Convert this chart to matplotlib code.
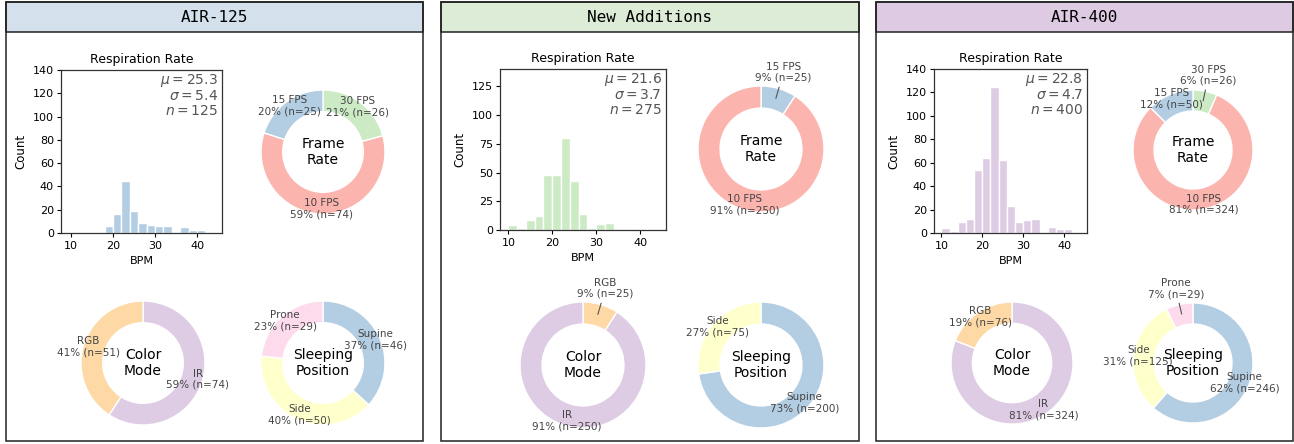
import matplotlib
matplotlib.use("Agg")
import matplotlib.pyplot as plt
from matplotlib.patches import Rectangle
import numpy as np

# ---------------------------------------------------------------- data
panel_titles = ["AIR-125", "New Additions", "AIR-400"]

bin_left = list(range(10, 42, 2))          # 2-BPM bins, 10..42
rr_air125 = [0, 0, 0, 0, 6, 16, 45, 19, 9, 7, 6, 6, 0, 5, 3, 3]
rr_new = [4, 2, 9, 12, 48, 48, 80, 43, 14, 2, 5, 6, 0, 0, 0, 0]
rr_air400 = [4, 2, 9, 12, 54, 64, 125, 62, 23, 9, 11, 12, 0, 5, 3, 3]
rr_counts = [rr_air125, rr_new, rr_air400]
rr_mean = [25.3, 21.6, 22.8]
rr_std = [5.4, 3.7, 4.7]
n_total = [125, 275, 400]

frame_labels = [["30 FPS", "10 FPS", "15 FPS"], ["15 FPS", "10 FPS"], ["30 FPS", "10 FPS", "15 FPS"]]
frame_counts = [[26, 74, 25], [25, 250], [26, 324, 50]]
color_labels = [["IR", "RGB"], ["RGB", "IR"], ["IR", "RGB"]]
color_counts = [[74, 51], [25, 250], [324, 76]]
sleep_labels = [["Supine", "Side", "Prone"], ["Supine", "Side"], ["Supine", "Side", "Prone"]]
sleep_counts = [[46, 50, 29], [200, 75], [246, 125, 29]]

# ---------------------------------------------------------------- styles
header_colors = ["#d4e1ed", "#dcecd7", "#dfcae3"]
bar_colors = ["#b3cde3", "#ccebc5", "#decbe4"]
frame_palette = {"10 FPS": "#fbb4ae", "15 FPS": "#b3cde3", "30 FPS": "#ccebc5"}
color_palette = {"RGB": "#fed9a6", "IR": "#decbe4"}
sleep_palette = {"Supine": "#b3cde3", "Side": "#ffffcc", "Prone": "#fddaec"}

W, H = 1294, 444
fig = plt.figure(figsize=(W / 100, H / 100), dpi=100)
fig.patch.set_facecolor("white")


def fx(x):
    return x / W


def fy(y):
    return 1 - y / H


def add_axes_px(left, top, right, bottom):
    return fig.add_axes([fx(left), fy(bottom), (right - left) / W, (bottom - top) / H])


# panel frames (pixel boxes)
panel_x = [(6, 423), (441, 859), (876, 1293)]
box_top, header_bottom, box_bottom = 2, 32, 441

# histogram boxes and x ranges
hist_box = [(61, 70, 222, 233), (500, 69, 666, 230), (934, 69, 1087, 233)]
hist_xlim = [(7.6, 45.95), (8.1, 45.9), (8.2, 45.6)]
hist_yticks = [list(range(0, 141, 20)), list(range(0, 126, 25)), list(range(0, 141, 20))]

# donut centres and radii
frame_pos = [(323, 152, 62), (761, 149, 63), (1193, 150, 60)]
color_pos = [(143, 363, 62), (583, 365, 63), (1012, 363, 61)]
sleep_pos = [(323, 363, 62), (761, 365, 63), (1193, 363, 60)]

label_color = "#444444"


def donut(cx, cy, r, labels, counts, center_text, palette):
    pad = 1.5
    ax = add_axes_px(cx - r * pad, cy - r * pad, cx + r * pad, cy + r * pad)
    wedges, _ = ax.pie(
        counts,
        colors=[palette[l] for l in labels],
        startangle=90,
        counterclock=False,
        radius=1.0,
        wedgeprops=dict(width=0.35, edgecolor="white", linewidth=1.0),
    )
    ax.set_xlim(-pad, pad)
    ax.set_ylim(-pad, pad)
    ax.set_aspect("equal")
    ax.axis("off")
    total = sum(counts)
    for w, lab, c in zip(wedges, labels, counts):
        ang = np.deg2rad((w.theta1 + w.theta2) / 2)
        ca, sa = np.cos(ang), np.sin(ang)
        frac = c / total
        txt = f"{lab}\n{100 * frac:.0f}% (n={c})"
        if frac < 0.1:
            ax.plot([0.84 * ca, 1.02 * ca], [0.84 * sa, 1.02 * sa],
                    color="#555555", lw=0.8, zorder=3)
            ax.text(1.27 * ca, 1.27 * sa, txt, ha="center", va="center",
                    fontsize=7.5, color=label_color, linespacing=1.15, zorder=4)
        else:
            ax.text(0.92 * ca, 0.92 * sa, txt, ha="center", va="center",
                    fontsize=7.5, color=label_color, linespacing=1.15, zorder=4)
    ax.text(0, 0, center_text, ha="center", va="center", fontsize=10,
            color="black", linespacing=1.1, zorder=4)


for i in range(3):
    x0, x1 = panel_x[i]
    # header band and panel outline
    fig.patches.append(Rectangle((fx(x0), fy(header_bottom)), (x1 - x0) / W,
                                 (header_bottom - box_top) / H, transform=fig.transFigure,
                                 facecolor=header_colors[i], edgecolor="#222222", lw=1.1))
    fig.patches.append(Rectangle((fx(x0), fy(box_bottom)), (x1 - x0) / W,
                                 (box_bottom - box_top) / H, transform=fig.transFigure,
                                 facecolor="none", edgecolor="#222222", lw=1.1))
    fig.text(fx((x0 + x1) / 2), fy((box_top + header_bottom) / 2 + 0.5), panel_titles[i],
             ha="center", va="center", fontsize=11.5, family="DejaVu Sans Mono")

    # respiration-rate histogram
    l, t, r, b = hist_box[i]
    ax = add_axes_px(l, t, r, b)
    ax.bar(bin_left, rr_counts[i], width=2, align="edge", color=bar_colors[i],
           edgecolor="white", linewidth=1.0)
    ax.set_xlim(*hist_xlim[i])
    ax.set_ylim(0, 140)
    ax.set_xticks([10, 20, 30, 40])
    ax.set_yticks(hist_yticks[i])
    ax.tick_params(labelsize=8, length=3, width=0.8, pad=2)
    ax.tick_params(axis="x", pad=3)
    for s in ax.spines.values():
        s.set_color("#333333")
        s.set_linewidth(0.9)
    ax.set_title("Respiration Rate", fontsize=9, pad=5)
    ax.set_xlabel("BPM", fontsize=8, labelpad=3)
    ax.set_ylabel("Count", fontsize=8.5, labelpad=4)
    ax.text(0.975, 0.99,
            f"$\\mu = {rr_mean[i]}$\n$\\sigma = {rr_std[i]}$\n$n = {n_total[i]}$",
            transform=ax.transAxes, ha="right", va="top", fontsize=10,
            color="#555555", linespacing=1.05)

    donut(*frame_pos[i], frame_labels[i], frame_counts[i], "Frame\nRate", frame_palette)
    donut(*color_pos[i], color_labels[i], color_counts[i], "Color\nMode", color_palette)
    donut(*sleep_pos[i], sleep_labels[i], sleep_counts[i], "Sleeping\nPosition", sleep_palette)

fig.savefig("out.png", dpi=100, facecolor="white")
